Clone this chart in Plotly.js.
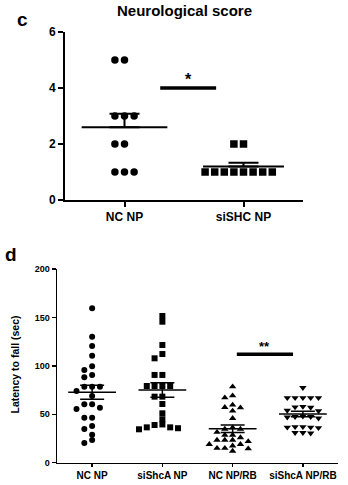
<!DOCTYPE html>
<html>
<head>
<meta charset="utf-8">
<script src="https://cdn.plot.ly/plotly-3.0.1.min.js"></script>
<style>html,body{margin:0;padding:0;background:#fff;}#chart{width:348px;height:485px;}</style>
</head>
<body>
<div id="chart"></div>
<script>
// ---------- Panel c: Neurological score ----------
const cTitle = 'Neurological score';
const cCategories = ['NC NP', 'siSHC NP'];
const cNCNP   = [5, 5, 3, 3, 3, 2, 2, 1, 1, 1];
const cSiSHC  = [2, 2, 1, 1, 1, 1, 1, 1, 1, 1];
const cYTicks = [0, 2, 4, 6];

// ---------- Panel d: Latency to fall ----------
const dCategories = ['NC NP', 'siShcA NP', 'NC NP/RB', 'siShcA NP/RB'];
const dNCNP = [159.4, 130.1, 120.5, 110.5, 99.5, 95.7, 90.6, 88.2, 78.5, 78.5, 78.5, 74.0,
               68.9, 60.3, 56.8, 55.4, 60.3, 46.5, 46.5, 37.9, 34.8, 28.9, 23.4, 20.3];
const dSiShcA = [151.5, 145.6, 121.5, 112.2, 107.8, 90.6, 90.6, 79.2, 79.2, 79.2, 79.2,
                 68.2, 68.2, 60.6, 51.0, 44.8, 38.9, 36.5, 34.5, 39.5, 35.6, 36.5];
const dNCRB = [78.5, 69.2, 67.1, 59.6, 57.2, 56.8, 53.4, 45.8, 36.2, 34.8, 34.8, 31.5,
               28.6, 28.6, 26.0, 23.4, 23.4, 22.0, 23.4, 19.0, 19.0, 17.5, 15.0, 14.5, 15.0, 12.0];
const dSiShcARB = [77.5, 67, 67, 67, 67, 67, 58, 57.5, 57, 54, 53.5, 48, 47.5, 47.5, 47, 46,
                   37, 36.5, 36, 36.5, 37, 31, 30.5, 31];
const dYTicks = [0, 50, 100, 150, 200];

// ---------- geometry (layout only) ----------
const W = 348, H = 485;
const cX = [65, 303], cY = [200, 32];       // pixel extents of panel c plot area
const dX = [57, 338], dY = [462.7, 269];    // pixel extents of panel d plot area
const cRangeX = [-0.5, 1.5], cRangeY = [0, 6];
const dRangeX = [-0.5, 3.5], dRangeY = [0, 200];
const cPxX = (cX[1]-cX[0])/(cRangeX[1]-cRangeX[0]);
const cPxY = (cY[0]-cY[1])/(cRangeY[1]-cRangeY[0]);
const dPxX = (dX[1]-dX[0])/(dRangeX[1]-dRangeX[0]);
const dPxY = (dY[0]-dY[1])/(dRangeY[1]-dRangeY[0]);

const FONT = 'Liberation Sans, Arial, Helvetica, sans-serif';

function mean(a){ return a.reduce((s,v)=>s+v,0)/a.length; }
function sem(a){ const m=mean(a); const v=a.reduce((s,x)=>s+(x-m)*(x-m),0)/(a.length-1); return Math.sqrt(v/a.length); }

// column-based beeswarm: returns x offsets in pixels
function swarm(vals, stepPx, minDyPx, pxPerY){
  const idx = vals.map((v,i)=>i).sort((a,b)=>vals[b]-vals[a]);
  const placed = [];
  const out = new Array(vals.length);
  idx.forEach(i=>{
    const py = vals[i]*pxPerY;
    for(let n=0;;n++){
      const k = n===0 ? 0 : (n%2===1 ? -(n+1)/2 : n/2);
      if(!placed.some(p=>p.k===k && Math.abs(p.py-py)<minDyPx)){
        placed.push({k,py}); out[i]=k*stepPx; break;
      }
    }
  });
  return out;
}

const traces = [];
function addGroup(vals, center, opts){
  const offs = swarm(vals, opts.step, opts.minDy, opts.pxY);
  traces.push({
    type:'scatter', mode:'markers', xaxis:opts.xa, yaxis:opts.ya,
    x: offs.map(o=>center + o/opts.pxX), y: vals,
    marker:{symbol:opts.symbol, size:opts.size, color:'#000', line:{width:0}},
    hoverinfo:'skip', showlegend:false, cliponaxis:false
  });
  const m = mean(vals), s = sem(vals);
  traces.push({
    type:'scatter', mode:'lines', xaxis:opts.xa, yaxis:opts.ya,
    x:[center-opts.halfMean, center+opts.halfMean], y:[m,m],
    line:{color:'#000', width:opts.lw}, hoverinfo:'skip', showlegend:false
  });
  traces.push({
    type:'scatter', mode:'markers', xaxis:opts.xa, yaxis:opts.ya,
    x:[center], y:[m], marker:{size:0.1, color:'rgba(0,0,0,0)'},
    error_y: opts.upperOnly ?
      {type:'data', symmetric:false, array:[s], arrayminus:[0], color:'#000', thickness:opts.lw, width:opts.cap} :
      {type:'data', array:[s], color:'#000', thickness:opts.lw, width:opts.cap},
    hoverinfo:'skip', showlegend:false
  });
}

const cOpts = {xa:'x', ya:'y', step:9.6, minDy:7, pxX:cPxX, pxY:cPxY, size:7.5,
               halfMean:0.36, lw:2, cap:15, upperOnly:true};
addGroup(cNCNP, 0, Object.assign({}, cOpts, {symbol:'circle'}));
addGroup(cSiSHC, 1, Object.assign({}, cOpts, {symbol:'square', size:7.5, halfMean:0.34}));

const dOpts = {xa:'x2', ya:'y2', step:7.8, minDy:5, pxX:dPxX, pxY:dPxY, size:6,
               halfMean:0.34, lw:1.5, cap:12, upperOnly:false};
addGroup(dNCNP, 0, Object.assign({}, dOpts, {symbol:'circle', size:6}));
addGroup(dSiShcA, 1, Object.assign({}, dOpts, {symbol:'square', size:6}));
addGroup(dNCRB, 2, Object.assign({}, dOpts, {symbol:'triangle-up', size:6.5}));
addGroup(dSiShcARB, 3, Object.assign({}, dOpts, {symbol:'triangle-down', size:6.5}));

const axBase = {showgrid:false, zeroline:false, showline:true, linecolor:'#000',
                ticks:'outside', tickcolor:'#000', fixedrange:true};

const layout = {
  width:W, height:H, autosize:false,
  margin:{l:0, r:0, t:0, b:0, pad:0},
  paper_bgcolor:'#fff', plot_bgcolor:'rgba(0,0,0,0)',
  font:{family:FONT, color:'#000'},
  showlegend:false,
  xaxis: Object.assign({}, axBase, {domain:[cX[0]/W, cX[1]/W], range:cRangeX, anchor:'y',
          tickvals:[0,1], ticktext:cCategories, linewidth:2, tickwidth:2, ticklen:5,
          tickfont:{family:FONT, size:12, weight:'bold', color:'#000'}}),
  yaxis: Object.assign({}, axBase, {domain:[1-cY[0]/H, 1-cY[1]/H], range:cRangeY, anchor:'x',
          tickvals:cYTicks, linewidth:2, tickwidth:2, ticklen:5,
          tickfont:{family:FONT, size:12, weight:'bold', color:'#000'}}),
  xaxis2: Object.assign({}, axBase, {domain:[dX[0]/W, dX[1]/W], range:dRangeX, anchor:'y2',
          tickvals:[0,1,2,3], ticktext:dCategories, linewidth:1.5, tickwidth:1.5, ticklen:3,
          tickfont:{family:FONT, size:10, weight:'bold', color:'#000'}}),
  yaxis2: Object.assign({}, axBase, {domain:[1-dY[0]/H, 1-dY[1]/H], range:dRangeY, anchor:'x2',
          tickvals:dYTicks, linewidth:1.5, tickwidth:1.5, ticklen:4,
          tickfont:{family:FONT, size:9, weight:'bold', color:'#000'}}),
  shapes:[
    {type:'line', xref:'x', yref:'y', x0:0.30, x1:0.77, y0:4, y1:4, line:{color:'#000', width:3.5}},
    {type:'line', xref:'x2', yref:'y2', x0:2.06, x1:2.86, y0:112, y1:112, line:{color:'#000', width:3.5}}
  ],
  annotations:[
    {text:cTitle, xref:'paper', yref:'paper', x:184/W, y:1-1.5/H, xanchor:'center', yanchor:'top',
     showarrow:false, borderpad:0, font:{family:FONT, size:15, weight:'bold', color:'#000'}},
    {text:'c', xref:'paper', yref:'paper', x:22/W, y:1-20/H, xanchor:'center', yanchor:'middle',
     showarrow:false, font:{family:FONT, size:19, weight:'bold', color:'#000'}},
    {text:'d', xref:'paper', yref:'paper', x:11/W, y:1-254/H, xanchor:'center', yanchor:'middle',
     showarrow:false, font:{family:FONT, size:19, weight:'bold', color:'#000'}},
    {text:'*', xref:'x', yref:'y', x:0.534, y:4.32, xanchor:'center', yanchor:'middle',
     showarrow:false, font:{family:FONT, size:16, weight:'bold', color:'#000'}},
    {text:'**', xref:'x2', yref:'y2', x:2.46, y:120, xanchor:'center', yanchor:'middle',
     showarrow:false, font:{family:FONT, size:13, weight:'bold', color:'#000'}},
    {text:'Latency to fall (sec)', xref:'paper', yref:'paper', x:14.5/W, y:1-365/H,
     xanchor:'center', yanchor:'middle', textangle:-90, showarrow:false,
     font:{family:FONT, size:10.5, weight:'bold', color:'#000'}}
  ]
};

Plotly.newPlot('chart', traces, layout, {displayModeBar:false, staticPlot:true});
</script>
</body>
</html>
